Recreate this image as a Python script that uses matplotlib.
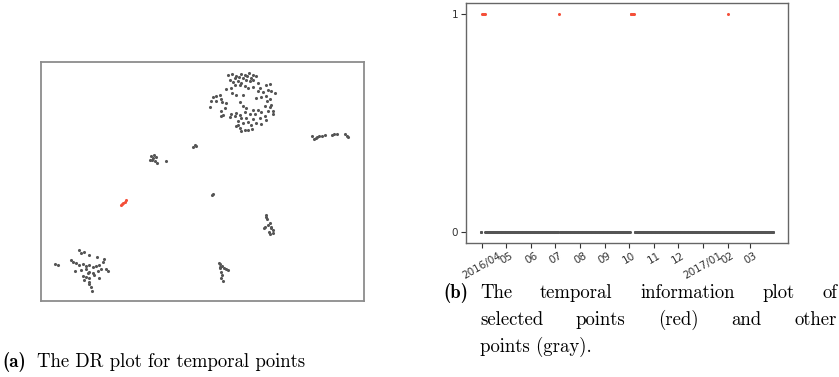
import matplotlib
matplotlib.use("Agg")
import matplotlib.pyplot as plt
import numpy as np
import pandas as pd

# ---------------- data ----------------
# DR projection (gray = other points, red = selected points)
dr_x = [565, 578, 590, 603, 615, 628, 640, 650, 585, 597, 610, 622, 635,
        570, 580, 595, 605, 618, 630, 640, 655, 690, 680, 600, 615, 585,
        560, 575, 625, 640, 660, 695, 705, 685, 670, 655, 578, 590, 610,
        530, 540, 520, 545, 515, 530, 548, 560, 680, 690, 650, 665,
        600, 683, 695, 690, 675, 510, 555, 610, 620, 640, 655,
        545, 550, 575, 590, 600, 615, 630, 645, 665, 685, 700, 700, 545,
        570, 585, 605, 620, 640, 660, 675, 680, 595, 610, 625, 650, 665, 635,
        590, 600, 615, 625, 605, 638, 595,
        815, 822, 830, 838, 845, 855, 875, 882, 890, 915, 920, 925, 828,
        460, 466, 470,
        335, 342, 348, 330, 338, 345, 352, 380, 340,
        518, 520,
        678, 680, 683, 675, 685, 690, 695, 700, 688, 690, 695, 672, 700,
        48, 55, 120, 125, 135, 150, 172, 195, 190, 95, 100, 110, 120, 130,
        140, 150, 160, 170, 180, 200, 205, 108, 125, 140, 150, 160, 175, 185,
        130, 140, 150, 165, 180, 135, 148, 150, 155, 158, 145,
        538, 542, 548, 540, 552, 560, 565, 545, 548, 545, 550, 540]
dr_y = [45, 42, 48, 42, 45, 40, 45, 48, 55, 52, 55, 50, 55,
        60, 68, 65, 70, 62, 65, 60, 70, 73, 75, 75, 78, 75,
        88, 85, 85, 82, 85, 95, 100, 92, 98, 95, 100, 105, 105,
        108, 105, 112, 118, 125, 125, 128, 130, 110, 118, 115, 112,
        128, 125, 135, 142, 140, 143, 145, 140, 145, 150, 150,
        155, 165, 162, 160, 165, 158, 162, 162, 158, 155, 155, 162, 170,
        172, 170, 175, 175, 178, 175, 170, 182, 185, 190, 188, 190, 192, 195,
        198, 205, 210, 212, 215, 208, 195,
        228, 238, 232, 228, 230, 226, 225, 224, 224, 222, 228, 232, 236,
        262, 256, 258,
        288, 285, 292, 302, 300, 305, 310, 305, 295,
        405, 402,
        465, 470, 478, 500, 495, 490, 500, 510, 515, 522, 505, 505, 518,
        612, 615, 570, 578, 575, 585, 590, 598, 605, 600, 605, 610, 615, 612,
        618, 615, 620, 618, 615, 628, 632, 632, 630, 628, 635, 640, 632, 628,
        648, 650, 655, 645, 655, 660, 665, 672, 680, 692, 640,
        608, 612, 618, 620, 625, 628, 630, 635, 645, 655, 662, 625]
sel_x = [245, 250, 255, 260, 248]
sel_y = [435, 430, 425, 420, 433]

# temporal information
day_start = "2016-03-30"
day_end = "2017-03-30"
selected_days = ["2016-04-01", "2016-04-02", "2016-04-03", "2016-04-04",
                 "2016-07-06",
                 "2016-10-03", "2016-10-04", "2016-10-05", "2016-10-06", "2016-10-07",
                 "2017-02-01"]
month_ticks = ["2016-04-01", "2016-05-01", "2016-06-01", "2016-07-01",
               "2016-08-01", "2016-09-01", "2016-10-01", "2016-11-01",
               "2016-12-01", "2017-01-01", "2017-02-01", "2017-03-01"]
month_labels = ["2016/04", "05", "06", "07", "08", "09", "10", "11", "12",
                "2017/01", "02", "03"]
y_ticks = [0, 1]

caption_a = ["(a)", "The DR plot for temporal points"]
caption_b = ["(b)", "The temporal information plot of",
             "selected points (red) and other", "points (gray)."]

GRAY = "#555555"
RED = "#f4503a"

# ---------------- figure ----------------
W, H = 839, 377
fig = plt.figure(figsize=(W / 100, H / 100), dpi=100)

def ax_at(l, t, r, b):
    return fig.add_axes([l / W, 1 - b / H, (r - l) / W, (b - t) / H])

# (a) DR plot
ax1 = ax_at(41, 62, 364, 301)
ax1.scatter(dr_x, dr_y, s=5, color=GRAY, linewidths=0)
ax1.scatter(sel_x, sel_y, s=5, color=RED, linewidths=0)
ax1.set_xlim(5, 972)
ax1.set_ylim(723, 7)
ax1.set_xticks([])
ax1.set_yticks([])
for sp in ax1.spines.values():
    sp.set_color("#8c8c8c")
    sp.set_linewidth(1.3)

# (b) temporal plot
days = pd.date_range(day_start, day_end, freq="D")
is_sel = days.isin(pd.to_datetime(selected_days))
ax2 = ax_at(466, 3, 788, 243)
ax2.plot(days[~is_sel], np.zeros((~is_sel).sum()), "o", ms=2.2,
         color=GRAY, mew=0)
ax2.plot(days[is_sel], np.ones(is_sel.sum()), "o", ms=2.2,
         color=RED, mew=0)
ax2.set_yticks(y_ticks)
ax2.set_xticks(pd.to_datetime(month_ticks))
ax2.set_xticklabels(month_labels, rotation=30, ha="center")
ax2.tick_params(labelsize=7.5, colors="#333333", length=3.5, width=0.8,
                pad=2)
for sp in ax2.spines.values():
    sp.set_color("#666666")
    sp.set_linewidth(1.0)

# ---------------- captions ----------------
FS = 13.5
renderer = fig.canvas.get_renderer()

def text_px(x, y, s, bold=False):
    return fig.text(x / W, 1 - y / H, s, fontsize=FS,
                    family="cmb10" if bold else "cmr10",
                    va="baseline", ha="left")

def width_px(t):
    return t.get_window_extent(renderer).width

def justified(x0, x1, y, line):
    words = line.split()
    ts = [text_px(0, y, w) for w in words]
    ws = [width_px(t) for t in ts]
    gap = (x1 - x0 - sum(ws)) / (len(words) - 1)
    x = x0
    for t, w in zip(ts, ws):
        t.set_x(x / W)
        x += w + gap

text_px(2, 367, caption_a[0], bold=True)
text_px(37, 367, caption_a[1])

text_px(443, 298, caption_b[0], bold=True)
justified(480, 837, 298, caption_b[1])
justified(480, 837, 325, caption_b[2])
text_px(480, 352, caption_b[3])

fig.savefig("out.png", dpi=100)
